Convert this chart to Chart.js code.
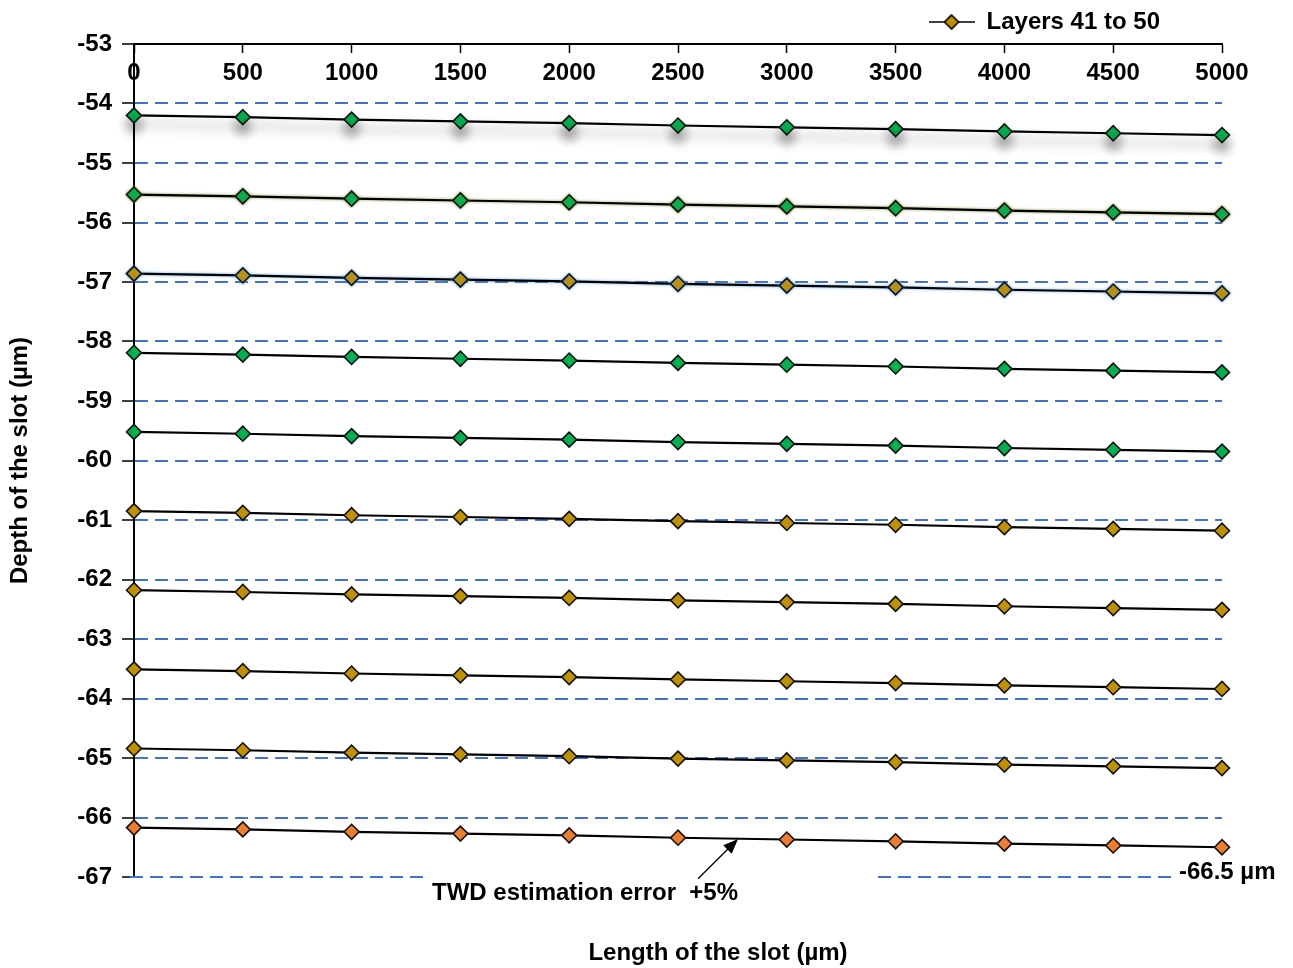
<!DOCTYPE html>
<html>
<head>
<meta charset="utf-8">
<script src="https://cdn.jsdelivr.net/npm/chart.js@4.4.1/dist/chart.umd.min.js"></script>
<style>
  body { margin: 0; background: #fff; }
</style>
</head>
<body>
<canvas id="myChart" width="1293" height="968"></canvas>
<script>
// slot length (x) and depth of each layer (y)
const lengths = [0, 500, 1000, 1500, 2000, 2500, 3000, 3500, 4000, 4500, 5000];
const layer1  = [-54.20, -54.23, -54.27, -54.30, -54.33, -54.37, -54.40, -54.43, -54.47, -54.50, -54.53];
const layer2  = [-55.53, -55.56, -55.60, -55.63, -55.66, -55.70, -55.73, -55.76, -55.80, -55.83, -55.86];
const layer3  = [-56.86, -56.89, -56.93, -56.96, -56.99, -57.03, -57.06, -57.09, -57.13, -57.16, -57.19];
const layer4  = [-58.19, -58.22, -58.26, -58.29, -58.32, -58.36, -58.39, -58.42, -58.46, -58.49, -58.52];
const layer5  = [-59.52, -59.55, -59.59, -59.62, -59.65, -59.69, -59.72, -59.75, -59.79, -59.82, -59.85];
const layer6  = [-60.85, -60.88, -60.92, -60.95, -60.98, -61.02, -61.05, -61.08, -61.12, -61.15, -61.18];
const layer7  = [-62.18, -62.21, -62.25, -62.28, -62.31, -62.35, -62.38, -62.41, -62.45, -62.48, -62.51];
const layer8  = [-63.51, -63.54, -63.58, -63.61, -63.64, -63.68, -63.71, -63.74, -63.78, -63.81, -63.84];
const layer9  = [-64.84, -64.87, -64.91, -64.94, -64.97, -65.01, -65.04, -65.07, -65.11, -65.14, -65.17];
const layer10 = [-66.17, -66.20, -66.24, -66.27, -66.30, -66.34, -66.37, -66.40, -66.44, -66.47, -66.50];
const layers = [layer1, layer2, layer3, layer4, layer5, layer6, layer7, layer8, layer9, layer10];

const GREEN = '#00B050';
const GOLD = '#BF9000';
const ORANGE = '#ED7D31';
const markerColors = [GREEN, GREEN, GOLD, GREEN, GREEN, GOLD, GOLD, GOLD, GOLD, ORANGE];

const legendText = 'Layers 41 to 50';
const xTitle = 'Length of the slot (µm)';
const yTitle = 'Depth of the slot (µm)';
const noteText = 'TWD estimation error  +5%';
const endText = '-66.5 µm';

const FONT = 'Liberation Sans, Arial, sans-serif';
const boldFont = { family: FONT, size: 24, weight: 'bold' };

// legend icon: line with a diamond in the middle
function legendIcon() {
    var c = document.createElement('canvas');
    c.width = 46; c.height = 18;
    var g = c.getContext('2d');
    g.strokeStyle = '#000';
    g.lineWidth = 1.6;
    g.beginPath(); g.moveTo(0, 9); g.lineTo(46, 9); g.stroke();
    g.beginPath();
    g.moveTo(23, 2); g.lineTo(30, 9); g.lineTo(23, 16); g.lineTo(16, 9);
    g.closePath();
    g.fillStyle = GOLD; g.fill(); g.stroke();
    return c;
}
const icon = legendIcon();

var datasets = layers.map(function (vals, i) {
    return {
        label: 'Layer ' + (i + 1),
        data: vals.map(function (v, j) { return { x: lengths[j], y: v }; }),
        borderColor: '#000',
        borderWidth: 2.2,
        tension: 0,
        pointStyle: 'rectRot',
        pointRadius: 7.5,
        pointBackgroundColor: markerColors[i],
        pointBorderColor: '#111',
        pointBorderWidth: 1.6,
        clip: false
    };
});

// shadow / glow effects on the first layers
const effects = {
    0: { color: 'rgba(0,0,0,0.45)', blur: 12, dy: 9 },
    1: { color: 'rgba(110,130,30,0.8)', blur: 3, dy: 0 },
    2: { color: 'rgba(90,160,230,0.9)', blur: 3, dy: 0 }
};

const extras = {
    id: 'extras',
    afterLayout: function (chart) {
        // move legend left so it ends where the reference one does
        chart.legend.left -= 52;
        chart.legend.right -= 52;
    },
    beforeDatasetDraw: function (chart, args) {
        var e = effects[args.index];
        if (!e) return;
        var ctx = chart.ctx;
        ctx.save();
        ctx.shadowColor = e.color;
        ctx.shadowBlur = e.blur;
        ctx.shadowOffsetY = e.dy;
    },
    afterDatasetDraw: function (chart, args) {
        if (effects[args.index]) chart.ctx.restore();
    },
    afterDraw: function (chart) {
        var ctx = chart.ctx;
        var xs = chart.scales.x, ys = chart.scales.y;
        ctx.save();
        // broken gridline at -67
        ctx.strokeStyle = '#4472C4';
        ctx.lineWidth = 2;
        ctx.setLineDash([13, 7]);
        var y67 = ys.getPixelForValue(-67);
        [[130, 425], [878, 1178]].forEach(function (s) {
            ctx.beginPath();
            ctx.moveTo(s[0], y67);
            ctx.lineTo(s[1], y67);
            ctx.stroke();
        });
        ctx.setLineDash([]);

        // arrow
        var tx = xs.getPixelForValue(2592), ty = ys.getPixelForValue(-67.03);
        var hx = xs.getPixelForValue(2776), hy = ys.getPixelForValue(-66.36);
        var ang = Math.atan2(hy - ty, hx - tx);
        ctx.strokeStyle = '#000';
        ctx.fillStyle = '#000';
        ctx.lineWidth = 1.3;
        ctx.beginPath(); ctx.moveTo(tx, ty); ctx.lineTo(hx - 10 * Math.cos(ang), hy - 10 * Math.sin(ang)); ctx.stroke();
        ctx.beginPath();
        ctx.moveTo(hx, hy);
        ctx.lineTo(hx - 15 * Math.cos(ang) + 6 * Math.sin(ang), hy - 15 * Math.sin(ang) - 6 * Math.cos(ang));
        ctx.lineTo(hx - 15 * Math.cos(ang) - 6 * Math.sin(ang), hy - 15 * Math.sin(ang) + 6 * Math.cos(ang));
        ctx.closePath();
        ctx.fill();

        // texts
        ctx.font = 'bold 24px ' + FONT;
        ctx.fillStyle = '#000';
        ctx.textBaseline = 'middle';
        ctx.textAlign = 'center';
        ctx.fillText(noteText, 585, y67 + 16);
        ctx.fillText(xTitle, 718, 953);
        ctx.textAlign = 'left';
        ctx.fillText(endText, 1179, y67 - 5);
        ctx.restore();
    }
};

const ctx = document.getElementById('myChart').getContext('2d');
var graphData = {
    type: 'line',
    data: { datasets: datasets },
    options: {
        responsive: false,
        animation: false,
        events: [],
        layout: { autoPadding: false, padding: { left: 0, right: 71, top: 0, bottom: 91 } },
        plugins: {
            tooltip: { enabled: false },
            legend: {
                display: true,
                position: 'top',
                align: 'end',
                labels: {
                    color: '#000',
                    font: boldFont,
                    usePointStyle: true,
                    pointStyleWidth: 46,
                    padding: 10,
                    generateLabels: function () {
                        return [{ text: legendText, pointStyle: icon, fillStyle: GOLD, strokeStyle: '#000', lineWidth: 0, hidden: false, datasetIndex: 8 }];
                    }
                }
            }
        },
        scales: {
            x: {
                type: 'linear',
                position: { y: -53 },
                min: 0,
                max: 5000,
                ticks: {
                    stepSize: 500, color: '#000', font: boldFont, padding: 7, maxRotation: 0, autoSkip: false,
                    callback: function (v) { return String(v); }
                },
                grid: { drawOnChartArea: false, tickLength: 8, tickColor: '#000', tickWidth: 1.5 },
                border: { color: '#000', width: 2 },
                afterFit: function (s) { s.paddingLeft = 0; s.paddingRight = 0; }
            },
            y: {
                min: -67,
                max: -53,
                ticks: { stepSize: 1, color: '#000', font: boldFont, padding: 10 },
                grid: {
                    color: function (c) {
                        var v = c.tick && c.tick.value;
                        return (v <= -54 && v >= -66) ? '#4472C4' : 'rgba(0,0,0,0)';
                    },
                    lineWidth: 2,
                    tickLength: 12,
                    tickColor: '#000',
                    tickWidth: 1.5,
                    tickBorderDash: []
                },
                border: { color: '#000', width: 2, dash: [13, 7] },
                title: { display: true, text: yTitle, color: '#000', font: boldFont, padding: { top: 6, bottom: 0 } },
                afterFit: function (s) { s.width = 134; s.paddingTop = 0; s.paddingBottom = 0; }
            }
        }
    },
    plugins: [extras]
};
const myChart = new Chart(ctx, graphData);
</script>
</body>
</html>
